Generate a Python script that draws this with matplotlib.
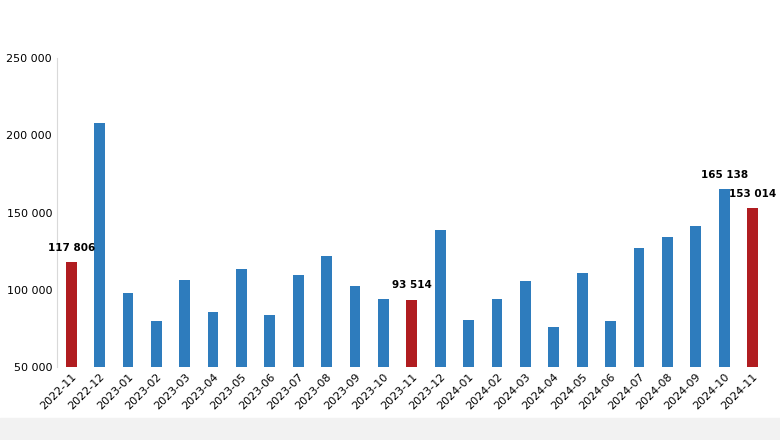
import matplotlib
matplotlib.use('Agg')
import matplotlib.pyplot as plt
import numpy as np

months = ['2022-11', '2022-12', '2023-01', '2023-02', '2023-03', '2023-04', '2023-05',
          '2023-06', '2023-07', '2023-08', '2023-09', '2023-10', '2023-11', '2023-12',
          '2024-01', '2024-02', '2024-03', '2024-04', '2024-05', '2024-06', '2024-07',
          '2024-08', '2024-09', '2024-10', '2024-11']
values = [117806, 208000, 98000, 80000, 106000, 85600, 113400, 83700, 109500, 122000,
          102500, 94000, 93514, 138700, 80400, 94000, 105700, 75900, 110800, 79800,
          127000, 134200, 141000, 165138, 153014]
highlight = ['2022-11', '2023-11', '2024-11']
labelled = ['2022-11', '2023-11', '2024-10', '2024-11']

blue, red = '#2e7cbd', '#b01c20'
colors = [red if m in highlight else blue for m in months]

fig = plt.figure(figsize=(7.8, 4.4), dpi=100)
fig.patches.append(plt.Rectangle((0, 0), 1, 0.05, transform=fig.transFigure,
                                 color='#f2f2f2', zorder=-1))
ax = fig.add_axes([0.073, 0.166, 0.91, 0.702])
x = np.arange(len(months))
ax.bar(x, values, width=0.38, color=colors)

for i, m in enumerate(months):
    if m in labelled:
        txt = f'{values[i]:,}'.replace(',', ' ')
        ax.text(i, values[i] + 6000, txt, ha='center', va='bottom',
                fontsize=7.5, fontweight='bold')

ax.set_ylim(50000, 250000)
ax.set_yticks(range(50000, 250001, 50000))
ax.set_yticklabels([f'{v:,}'.replace(',', ' ') for v in range(50000, 250001, 50000)],
                   fontsize=8)
ax.set_xlim(-0.5, len(months) - 0.5)
ax.set_xticks(x)
ax.set_xticklabels(months, rotation=45, ha='right', rotation_mode='anchor', fontsize=8)
ax.tick_params(length=0)
for s in ['top', 'right', 'bottom']:
    ax.spines[s].set_visible(False)
ax.spines['left'].set_color('#d9d9d9')

fig.savefig('out.png', dpi=100)
